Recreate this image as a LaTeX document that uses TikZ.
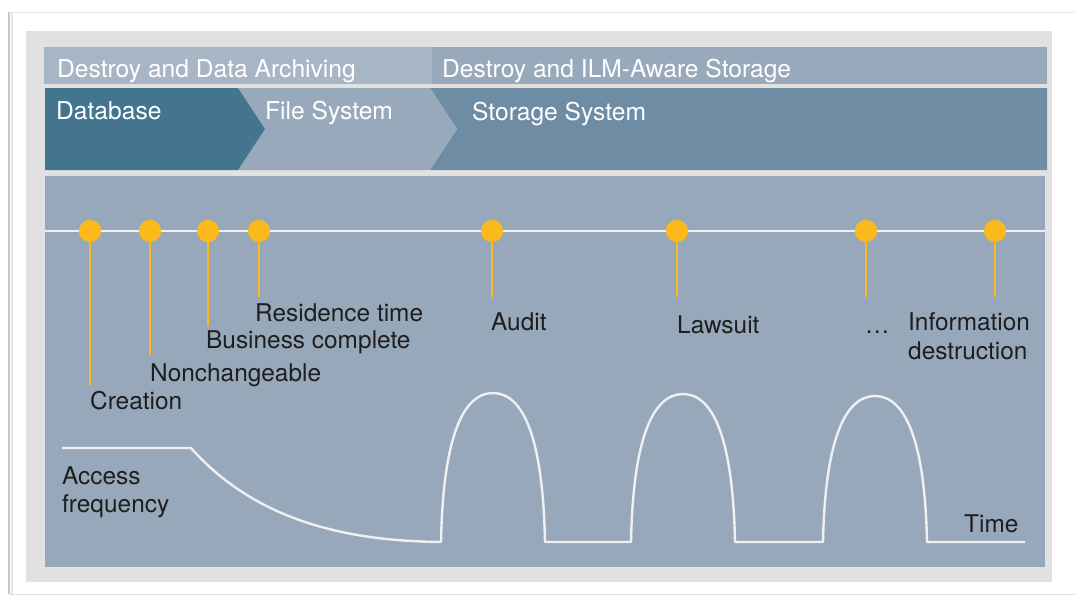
\documentclass[tikz,border=0pt]{standalone}
\usepackage{fontspec}
\setmainfont{TeX Gyre Heros}
\definecolor{panelgray}{HTML}{E1E1E1}
\definecolor{bandA}{HTML}{A8B5C4}
\definecolor{bandB}{HTML}{98A9BB}
\definecolor{dbblue}{HTML}{44758F}
\definecolor{fsblue}{HTML}{98A9BB}
\definecolor{ssblue}{HTML}{6E8CA4}
\definecolor{mainblue}{HTML}{97A8BA}
\definecolor{dotc}{HTML}{FBB91B}
\definecolor{txt}{HTML}{1E1E1E}
\definecolor{curvec}{HTML}{EEF0F2}
\begin{document}
\begin{tikzpicture}[x=1pt,y=-1pt,
  hdr/.style={anchor=base west, inner sep=0pt, text=white, font=\fontsize{24.6}{28}\selectfont},
  lbl/.style={anchor=base west, inner sep=0pt, text=txt, font=\fontsize{24.4}{29}\selectfont, align=left},
  dot/.style={circle, fill=dotc, minimum size=22pt, inner sep=0pt},
  stem/.style={draw=dotc, line width=2.4pt},
  curve/.style={draw=curvec, line width=2.4pt, line join=round}]
\useasboundingbox (0,0) rectangle (1075,597);
% card with shadow
\fill[white] (0,0) rectangle (1075,597);
\draw[gray!20, line width=1pt] (10,12) -- (1075,12);
\draw[gray!25, line width=1pt] (10,594) -- (1075,594);
\draw[gray!45, line width=2pt] (9,12) -- (9,594);
\draw[gray!20, line width=2pt] (11.5,12) -- (11.5,594);
% light gray panel
\fill[panelgray] (26,31) rectangle (1052,582);
% top band
\fill[bandA] (44,47) rectangle (432,84);
\fill[bandB] (432,47) rectangle (1047,84);
% chevron band
\fill[ssblue] (430,88) -- (1047,88) -- (1047,170) -- (430,170) -- (457,129) -- cycle;
\fill[fsblue] (238,88) -- (430,88) -- (457,129) -- (430,170) -- (238,170) -- (265,129) -- cycle;
\fill[dbblue] (45,88) -- (238,88) -- (265,129) -- (238,170) -- (45,170) -- cycle;
\node[hdr] (h1) at (57,77) {Destroy and Data Archiving};
\node[hdr] (h2) at (442,77) {Destroy and ILM-Aware Storage};
\node[hdr] (c1) at (56,119) {Database};
\node[hdr] (c2) at (265,119) {File System};
\node[hdr] (c3) at (472,120) {Storage System};
% main panel
\fill[mainblue] (45,176) rectangle (1045,567);
% timeline
\draw[curvec, line width=2.6pt] (45,231) -- (1045,231);
% event stems
\coordinate (e1) at (90,385);
\coordinate (e2) at (150,355);
\coordinate (e3) at (208,326);
\coordinate (e4) at (259,297);
\coordinate (e5) at (492,297);
\coordinate (e6) at (677,297);
\coordinate (e7) at (866,297);
\coordinate (e8) at (995,297);
\foreach \i/\x in {1/90,2/150,3/208,4/259,5/492,6/677,7/866,8/995}{
  \node[dot] (d\i) at (\x,231) {};
}
\foreach \i in {1,...,8}{
  \draw[stem] (d\i.center) -- (e\i);
  \node[dot] at (d\i.center) {};
}
% event labels
\node[lbl] (l4) at (255,321) {Residence time};
\node[lbl] (l3) at (206,348) {Business complete};
\node[lbl] (l2) at (150,381) {Nonchangeable};
\node[lbl] (l1) at (90,409) {Creation};
\node[lbl] (l5) at (491,330) {Audit};
\node[lbl] (l6) at (677,333) {Lawsuit};
\node[lbl] (l7) at (865,333) {\ldots};
\node[lbl] (l8) at (908,330) {Information};
\node[lbl] (l8b) at (908,359) {destruction};
% access frequency curve
\draw[curve] (62,448) -- (191,448) .. controls (255,520) and (345,541) .. (441,542)
  .. controls (443,440) and (462,393) .. (493,393) .. controls (524,393) and (543,440) .. (545,542)
  -- (631,542)
  .. controls (633,441) and (652,394) .. (683,394) .. controls (714,394) and (733,441) .. (735,542)
  -- (823,542)
  .. controls (825,443) and (844,396) .. (875,396) .. controls (906,396) and (925,443) .. (927,542)
  -- (1025,542);
\node[lbl] (af) at (62,484) {Access};
\node[lbl] (af2) at (62,512) {frequency};
\node[lbl] (tm) at (964,532) {Time};
\end{tikzpicture}
\end{document}
